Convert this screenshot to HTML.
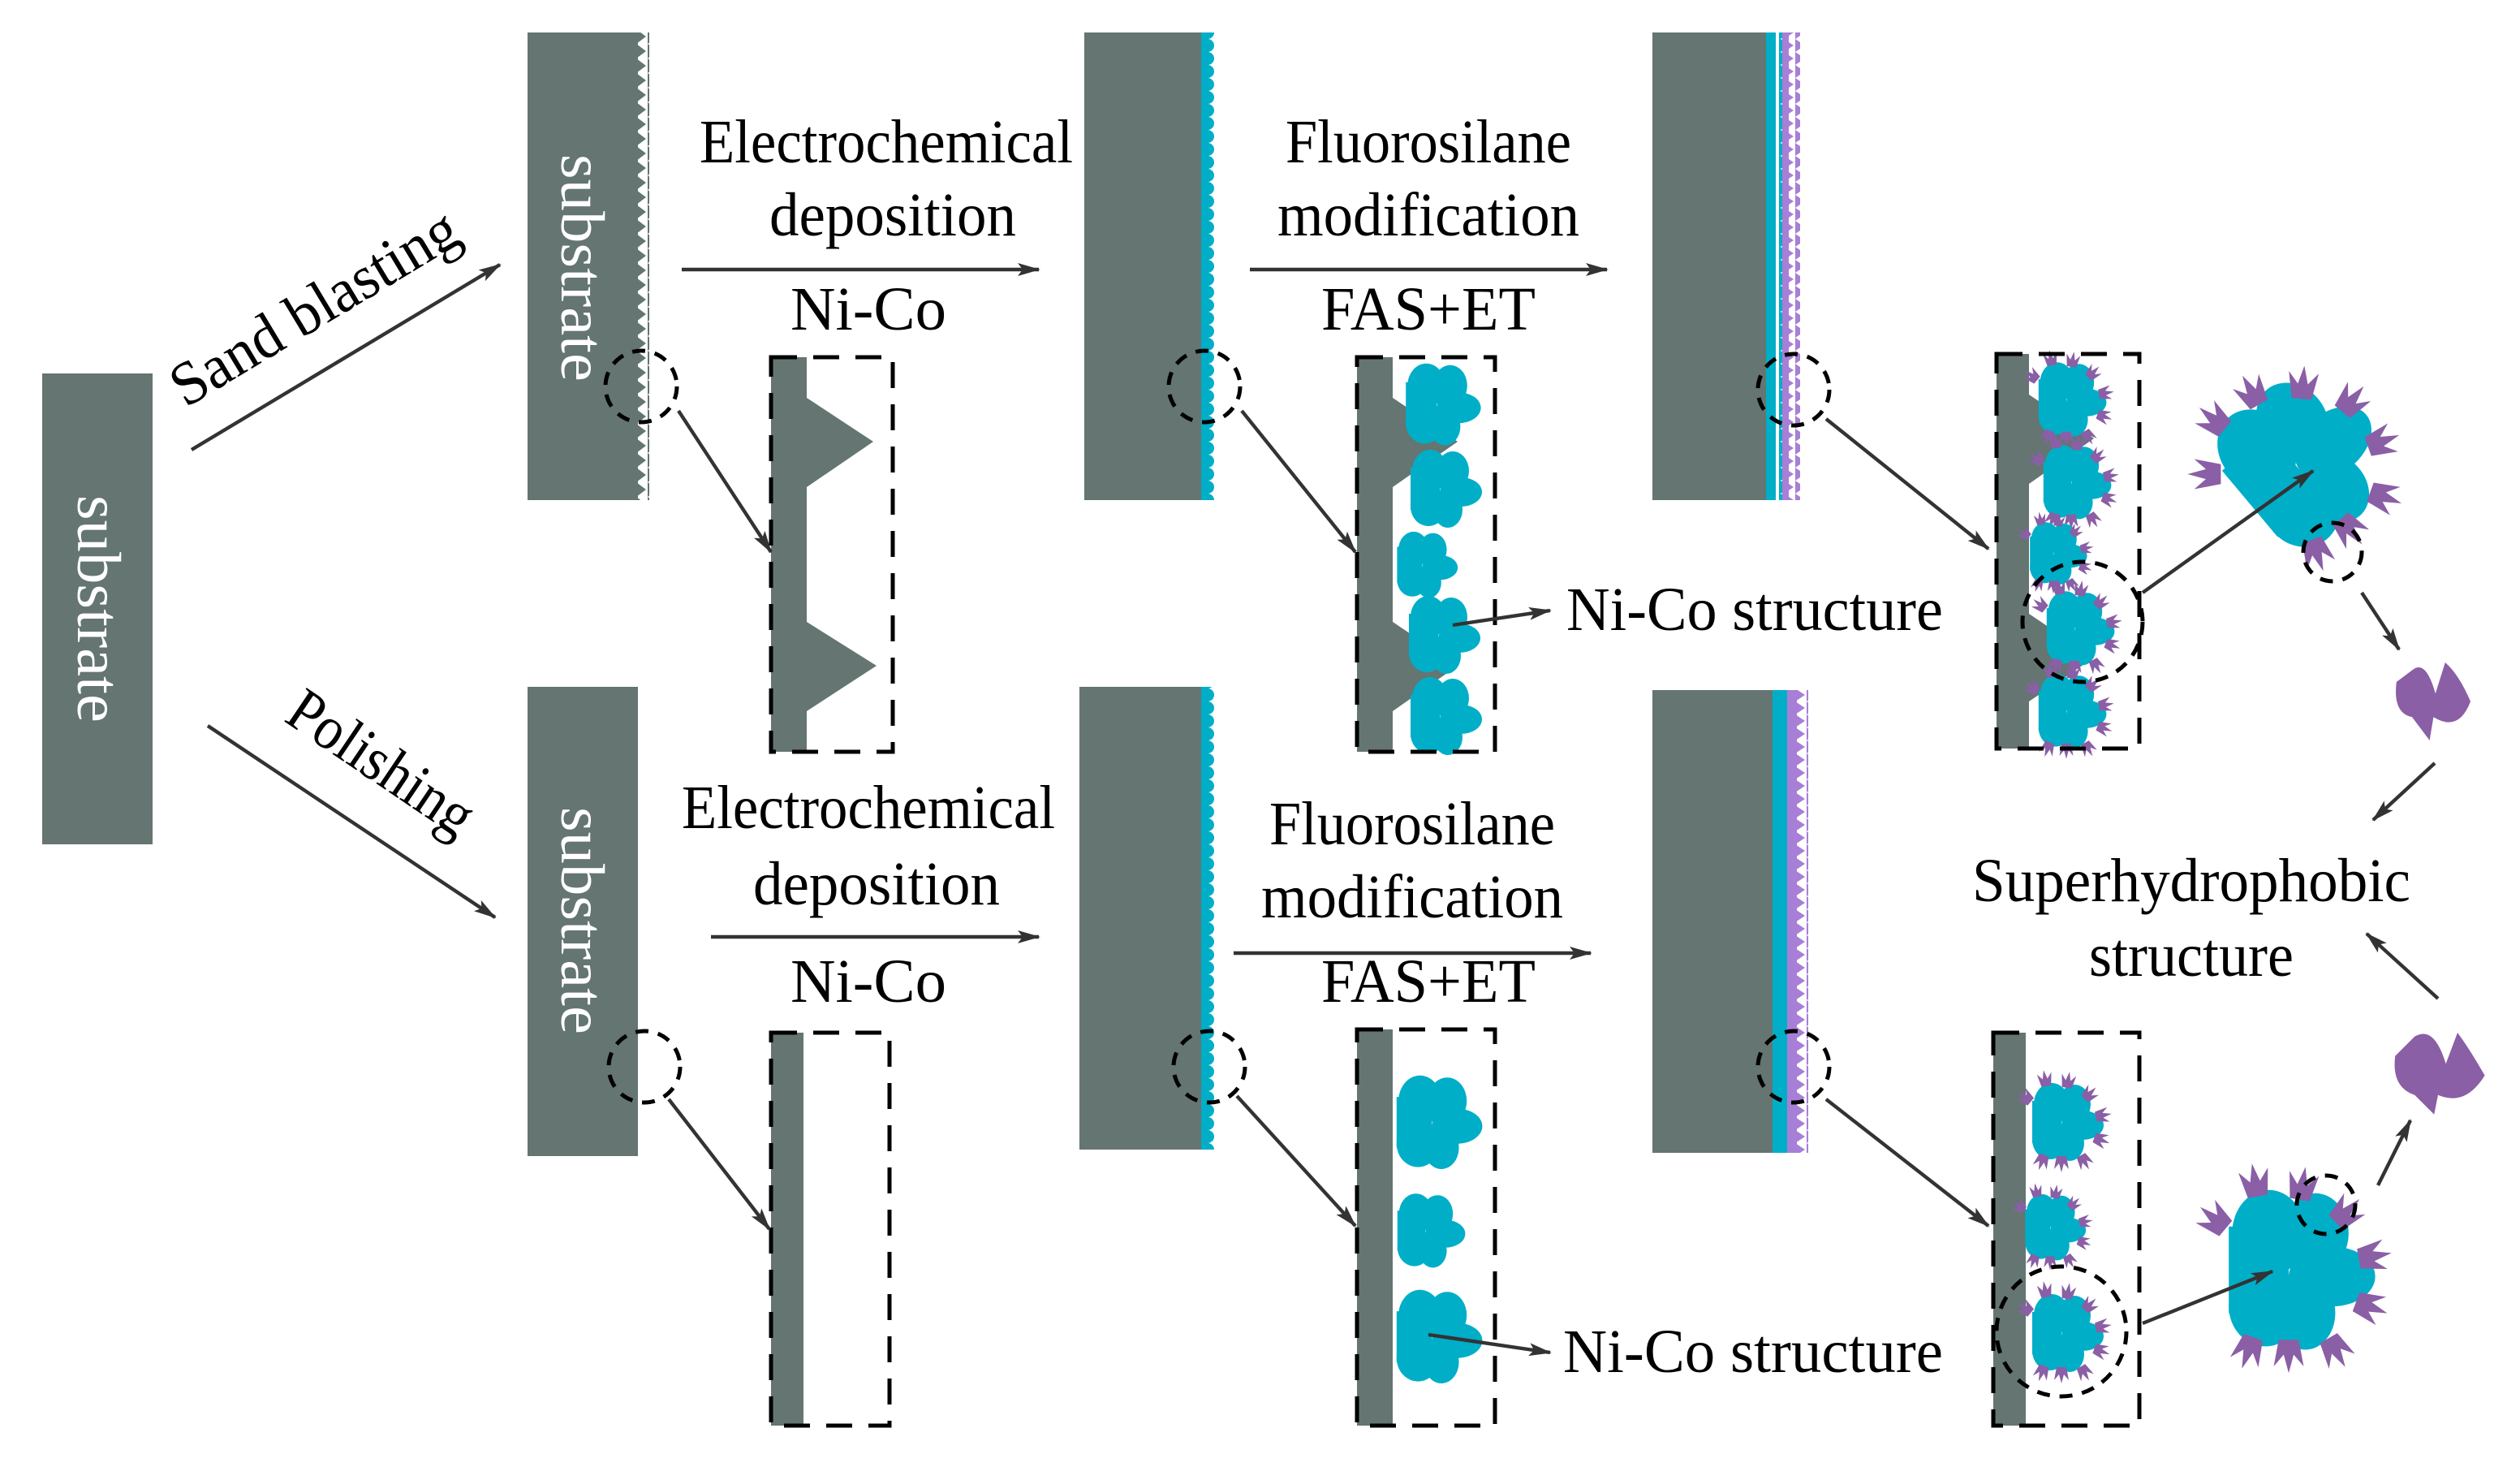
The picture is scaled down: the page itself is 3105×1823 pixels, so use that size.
<!DOCTYPE html>
<html><head><meta charset="utf-8"><style>html,body{margin:0;padding:0;background:#fff}svg{display:block}text{font-family:"Liberation Serif",serif;fill:#000}</style></head><body>
<svg width="3105" height="1823" viewBox="0 0 1552.5 911.5" xmlns="http://www.w3.org/2000/svg">
<defs>
<marker id="ar" markerWidth="14" markerHeight="8" refX="13" refY="4" orient="auto" markerUnits="userSpaceOnUse"><path d="M0,0 L14,4 L0,8 L3,4 Z" fill="#333"/></marker>
<pattern id="zig" x="0" y="0" width="7" height="9" patternUnits="userSpaceOnUse"><polygon points="0,0 6,4.5 0,9" fill="#647572"/></pattern>
<pattern id="bump" x="0" y="0" width="8" height="8" patternUnits="userSpaceOnUse"><circle cx="0" cy="4" r="4" fill="#00aec8"/></pattern>
<pattern id="ptri" x="0" y="0" width="7" height="8" patternUnits="userSpaceOnUse"><polygon points="0,0 6,4 0,8" fill="#a77fd6"/></pattern>
<g id="blob" fill="#00aec8">
<ellipse cx="-6" cy="-10" rx="11" ry="13"/><ellipse cx="8" cy="-10" rx="10" ry="12"/><ellipse cx="13" cy="3" rx="13" ry="9"/><ellipse cx="5" cy="14" rx="9" ry="11"/><ellipse cx="-7" cy="12" rx="11" ry="12"/><rect x="-18" y="-12" width="18" height="26"/>
</g>
<path id="tuft" d="M-3,4 L-4.5,-4 L-1.5,-0.5 L0,-6 L1.5,-0.5 L4.5,-4 L3,4 Z" fill="#8a5fa6"/>
<g id="bt">
<use href="#blob"/>
<use href="#tuft" transform="translate(-10,-25) rotate(-10)"/>
<use href="#tuft" transform="translate(4,-24) rotate(10)"/>
<use href="#tuft" transform="translate(17,-16) rotate(45)"/>
<use href="#tuft" transform="translate(25,-3) rotate(80)"/>
<use href="#tuft" transform="translate(24,12) rotate(110)"/>
<use href="#tuft" transform="translate(14,25) rotate(150)"/>
<use href="#tuft" transform="translate(0,26) rotate(180)"/>
<use href="#tuft" transform="translate(-12,25) rotate(200)"/>
<use href="#tuft" transform="translate(-22,-14) rotate(-50)"/>
</g>
</defs>
<g fill="#647572">
<rect x="26" y="230" width="68" height="290"/>
<rect x="325" y="20" width="68" height="288"/>
<rect x="325" y="423" width="68" height="289"/>
<rect x="668" y="20" width="72" height="288"/>
<rect x="665" y="423" width="75" height="285"/>
<rect x="1018" y="20" width="70" height="288"/>
<rect x="1018" y="425" width="74" height="285"/>
</g>
<rect x="393" y="20" width="7" height="288" fill="url(#zig)"/>
<rect x="740" y="20" width="4" height="288" fill="#00aec8"/><rect x="744" y="20" width="5" height="288" fill="url(#bump)"/>
<rect x="740" y="423" width="4" height="285" fill="#00aec8"/><rect x="744" y="423" width="5" height="285" fill="url(#bump)"/>
<rect x="1088" y="20" width="6" height="288" fill="#00aec8"/><rect x="1094" y="20" width="5" height="288" fill="url(#bump)"/><rect x="1098" y="20" width="4" height="288" fill="#a77fd6"/><rect x="1102" y="20" width="7" height="288" fill="url(#ptri)"/>
<rect x="1092" y="425" width="9" height="285" fill="#00aec8"/><rect x="1101" y="425" width="6" height="285" fill="#a77fd6"/><rect x="1107" y="425" width="7" height="285" fill="url(#ptri)"/>
<g font-size="38">
<text transform="translate(48,375) rotate(90)" text-anchor="middle" style="fill:#fff" textLength="140" lengthAdjust="spacingAndGlyphs">substrate</text>
<text transform="translate(346,165) rotate(90)" text-anchor="middle" style="fill:#fff" textLength="140" lengthAdjust="spacingAndGlyphs">substrate</text>
<text transform="translate(346,567) rotate(90)" text-anchor="middle" style="fill:#fff" textLength="140" lengthAdjust="spacingAndGlyphs">substrate</text>
</g>
<g fill="#647572">
<rect x="475" y="220" width="22" height="243"/><polygon points="497,245 538,272 497,300"/><polygon points="497,383 540,410 497,438"/>
<rect x="836" y="220" width="22" height="243"/><polygon points="858,245 898,272 858,300"/><polygon points="858,383 898,410 858,438"/>
<rect x="1230" y="218" width="20" height="243"/><polygon points="1250,243 1290,270 1250,298"/><polygon points="1250,378 1290,405 1250,432"/>
<rect x="475" y="636" width="20" height="242"/>
<rect x="836" y="634" width="22" height="244"/>
<rect x="1228" y="636" width="20" height="242"/>
</g>
<g transform="translate(885,248) scale(1.05)"><use href="#blob"/></g>
<g transform="translate(887,300) scale(1.0)"><use href="#blob"/></g>
<g transform="translate(876,347) scale(0.85)"><use href="#blob"/></g>
<g transform="translate(886,390) scale(1.0)"><use href="#blob"/></g>
<g transform="translate(887,440) scale(1.0)"><use href="#blob"/></g>
<g transform="translate(882,690) scale(1.2)"><use href="#blob"/></g>
<g transform="translate(878,757) scale(0.95)"><use href="#blob"/></g>
<g transform="translate(882,822) scale(1.2)"><use href="#blob"/></g>
<g transform="translate(1273,245) scale(0.95)"><use href="#bt"/></g>
<g transform="translate(1276,296) scale(0.95)"><use href="#bt"/></g>
<g transform="translate(1265,340) scale(0.8)"><use href="#bt"/></g>
<g transform="translate(1278,386) scale(0.95)"><use href="#bt"/></g>
<g transform="translate(1273,437) scale(0.95)"><use href="#bt"/></g>
<g transform="translate(1270,690) scale(1.0)"><use href="#bt"/></g>
<g transform="translate(1263,755) scale(0.85)"><use href="#bt"/></g>
<g transform="translate(1270,820) scale(1.0)"><use href="#bt"/></g>
<g transform="translate(1413,285) rotate(-40) scale(2.05)"><use href="#bt"/></g>
<g transform="translate(1410,780) scale(2.05)"><use href="#bt"/></g>
<g fill="#8a5fa6">
<g transform="translate(1498,432) scale(1.2) translate(-1498,-432)"><path d="M1480,422 Q1478,438 1488,440 L1497,452 L1499,440 Q1512,448 1518,432 Q1512,418 1505,412 L1500,428 Q1495,410 1488,416 Z"/></g>
<g transform="translate(1502,660) scale(1.2) translate(-1502,-660)"><path d="M1480,652 Q1478,668 1490,672 L1500,682 L1502,672 Q1516,678 1526,662 Q1518,648 1512,640 L1506,656 Q1500,636 1490,642 Z"/></g>
</g>
<g fill="none" stroke="#000" stroke-width="2.5" stroke-dasharray="16,10">
<rect x="475" y="220" width="75" height="243"/>
<rect x="836" y="220" width="85" height="243"/>
<rect x="1230" y="218" width="88" height="243"/>
<rect x="475" y="636" width="73" height="242"/>
<rect x="836" y="634" width="85" height="244"/>
<rect x="1228" y="636" width="90" height="242"/>
</g>
<g fill="none" stroke="#000" stroke-width="2.5" stroke-dasharray="8,6">
<circle cx="395" cy="238" r="22"/><circle cx="742" cy="238" r="22"/><circle cx="1105" cy="240" r="22"/>
<circle cx="397" cy="657" r="22"/><circle cx="745" cy="657" r="22"/><circle cx="1105" cy="657" r="22"/>
<circle cx="1283" cy="383" r="37"/><circle cx="1270" cy="820" r="40"/>
<circle cx="1437" cy="340" r="18"/><circle cx="1433" cy="742" r="18"/>
</g>
<g stroke="#333" stroke-width="2.2" marker-end="url(#ar)" fill="none">
<line x1="118" y1="277" x2="308" y2="163"/>
<line x1="128" y1="447" x2="305" y2="565"/>
<line x1="420" y1="166" x2="640" y2="166"/>
<line x1="770" y1="166" x2="990" y2="166"/>
<line x1="438" y1="577" x2="640" y2="577"/>
<line x1="760" y1="587" x2="980" y2="587"/>
<line x1="418" y1="253" x2="475" y2="340"/>
<line x1="765" y1="253" x2="835" y2="340"/>
<line x1="1125" y1="258" x2="1225" y2="338"/>
<line x1="412" y1="677" x2="474" y2="757"/>
<line x1="762" y1="675" x2="835" y2="755"/>
<line x1="1125" y1="677" x2="1225" y2="755"/>
<line x1="895" y1="385" x2="955" y2="376"/>
<line x1="880" y1="822" x2="955" y2="833"/>
<line x1="1320" y1="365" x2="1425" y2="290"/>
<line x1="1320" y1="815" x2="1400" y2="783"/>
<line x1="1455" y1="365" x2="1478" y2="400"/>
<line x1="1500" y1="470" x2="1462" y2="505"/>
<line x1="1502" y1="615" x2="1458" y2="575"/>
<line x1="1465" y1="730" x2="1485" y2="690"/>
</g>
<g font-size="38">
<text x="546" y="100" text-anchor="middle" textLength="230" lengthAdjust="spacingAndGlyphs">Electrochemical</text>
<text x="550" y="145" text-anchor="middle" textLength="152" lengthAdjust="spacingAndGlyphs">deposition</text>
<text x="535" y="203" text-anchor="middle" textLength="96" lengthAdjust="spacingAndGlyphs">Ni-Co</text>
<text x="880" y="100" text-anchor="middle" textLength="176" lengthAdjust="spacingAndGlyphs">Fluorosilane</text>
<text x="880" y="145" text-anchor="middle" textLength="186" lengthAdjust="spacingAndGlyphs">modification</text>
<text x="880" y="203" text-anchor="middle" textLength="132" lengthAdjust="spacingAndGlyphs">FAS+ET</text>
<text x="535" y="510" text-anchor="middle" textLength="230" lengthAdjust="spacingAndGlyphs">Electrochemical</text>
<text x="540" y="557" text-anchor="middle" textLength="152" lengthAdjust="spacingAndGlyphs">deposition</text>
<text x="535" y="617" text-anchor="middle" textLength="96" lengthAdjust="spacingAndGlyphs">Ni-Co</text>
<text x="870" y="520" text-anchor="middle" textLength="176" lengthAdjust="spacingAndGlyphs">Fluorosilane</text>
<text x="870" y="565" text-anchor="middle" textLength="186" lengthAdjust="spacingAndGlyphs">modification</text>
<text x="880" y="617" text-anchor="middle" textLength="132" lengthAdjust="spacingAndGlyphs">FAS+ET</text>
<text x="965" y="388" textLength="232" lengthAdjust="spacingAndGlyphs">Ni-Co structure</text>
<text x="963" y="845" textLength="234" lengthAdjust="spacingAndGlyphs">Ni-Co structure</text>
<text x="1350" y="555" text-anchor="middle" textLength="270" lengthAdjust="spacingAndGlyphs">Superhydrophobic</text>
<text x="1350" y="601" text-anchor="middle" textLength="126" lengthAdjust="spacingAndGlyphs">structure</text>
<text transform="translate(200,200) rotate(-31)" text-anchor="middle" textLength="200" lengthAdjust="spacingAndGlyphs">Sand blasting</text>
<text transform="translate(228,480) rotate(34)" text-anchor="middle" textLength="130" lengthAdjust="spacingAndGlyphs">Polishing</text>
</g>
</svg>
</body></html>
